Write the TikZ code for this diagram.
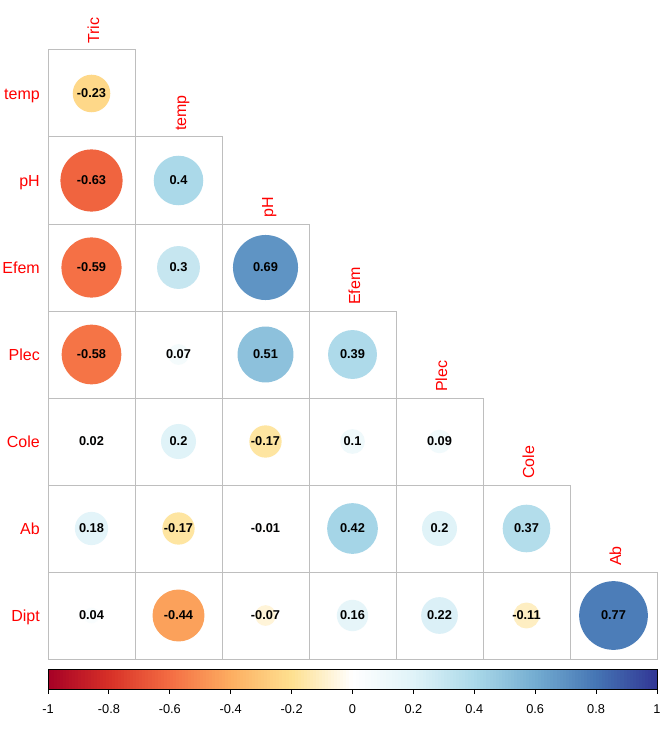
\documentclass[tikz,border=0pt]{standalone}
\usepackage{fontspec}
\setmainfont{Liberation Sans}
\definecolor{rb0}{HTML}{A50026}
\definecolor{rb1}{HTML}{D73027}
\definecolor{rb2}{HTML}{F46D43}
\definecolor{rb3}{HTML}{FDAE61}
\definecolor{rb4}{HTML}{FEE090}
\definecolor{rb5}{HTML}{FFFFFF}
\definecolor{rb6}{HTML}{E0F3F8}
\definecolor{rb7}{HTML}{ABD9E9}
\definecolor{rb8}{HTML}{74ADD1}
\definecolor{rb9}{HTML}{4575B4}
\definecolor{rb10}{HTML}{313695}
\definecolor{gridgray}{HTML}{BEBEBE}
\newcommand{\corcol}[1]{%
  \pgfmathsetmacro{\ct}{(#1+1)*5}%
  \pgfmathtruncatemacro{\ca}{min(floor(\ct),9)}%
  \pgfmathtruncatemacro{\cb}{\ca+1}%
  \pgfmathtruncatemacro{\cp}{round(100*(\cb-\ct))}%
  \colorlet{cc}{rb\ca!\cp!rb\cb}}

\begin{document}
\begin{tikzpicture}[x=1pt,y=-1pt,
  cell/.style={draw=gridgray,line width=1pt},
  lab/.style={text=red,font=\fontsize{16}{19}\selectfont,inner sep=0pt},
  coef/.style={font=\fontsize{12.8}{15}\selectfont\bfseries,inner sep=0pt},
  tick/.style={font=\fontsize{12.8}{15}\selectfont,inner sep=0pt}]
  \path[use as bounding box,fill=white] (0,0) rectangle (664,751);
  % row and column names
  \foreach \i/\n in {1/temp,2/pH,3/Efem,4/Plec,5/Cole,6/Ab,7/Dipt}
   {
    \node[lab,anchor=base east] (row\i) at (40,{87*\i+12.5}) {\n};
   }
  \foreach \j/\n in {1/Tric,2/temp,3/pH,4/Efem,5/Plec,6/Cole,7/Ab}
   {
    \node[lab,rotate=90,anchor=base west] (col\j) at ({87*\j+12},{87*\j-43}) {\n};
   }
  % lower triangle
  \foreach \i/\j/\cv in {1/1/-0.23,2/1/-0.63,2/2/0.4,3/1/-0.59,3/2/0.3,3/3/0.69,4/1/-0.58,4/2/0.07,4/3/0.51,4/4/0.39,5/1/0.02,5/2/0.2,5/3/-0.17,5/4/0.1,5/5/0.09,6/1/0.18,6/2/-0.17,6/3/-0.01,6/4/0.42,6/5/0.2,6/6/0.37,7/1/0.04,7/2/-0.44,7/3/-0.07,7/4/0.16,7/5/0.22,7/6/-0.11,7/7/0.77}
   {
    \corcol{\cv}
    \draw[cell] ({87*\j-39},{87*\i-37}) rectangle +(87,87);
    \fill[cc] ({87*\j+4.5},{87*\i+6.5}) circle[radius={39.15*sqrt(abs(\cv))}];
    \node[coef] (v\i\j) at ({87*\j+4.5},{87*\i+6.5}) {\cv};
   }
  % colour legend
  \foreach \k in {0,...,199}
   {
    \pgfmathsetmacro{\rv}{-0.995+\k*0.01}
    \corcol{\rv}
    \fill[cc] ({48+\k*3.045},669) rectangle +(3.5,20);
   }
  \draw[line width=1pt] (48,669) rectangle (657,689);
  \foreach \k/\t in {0/-1,1/-0.8,2/-0.6,3/-0.4,4/-0.2,5/0,6/0.2,7/0.4,8/0.6,9/0.8,10/1}
   {
    \draw[line width=1pt] ({48+\k*60.9},689) -- +(0,5) +(0,20) node[tick] (tk\k) {\t};
   }
\end{tikzpicture}
\end{document}
